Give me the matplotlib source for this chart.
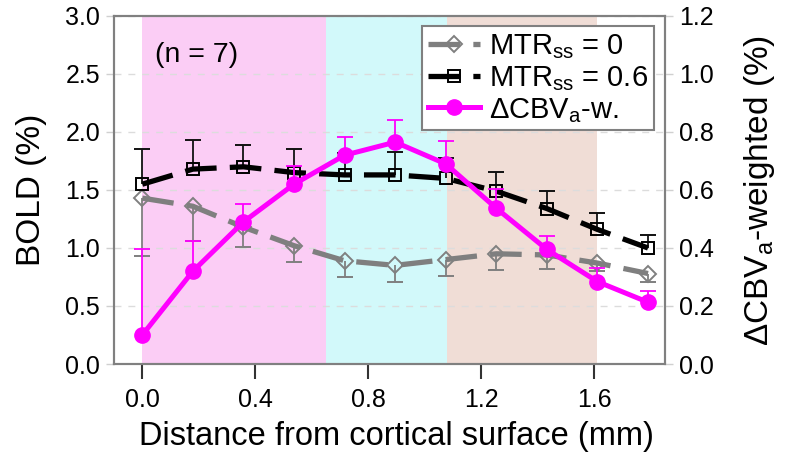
import numpy as np
import matplotlib
matplotlib.use("Agg")
import matplotlib.pyplot as plt

plt.rcParams['font.family'] = ['Liberation Sans', 'DejaVu Sans']
plt.rcParams['mathtext.fontset'] = 'custom'
plt.rcParams['mathtext.rm'] = 'Liberation Sans'
plt.rcParams['mathtext.it'] = 'Liberation Sans:italic'

# ---- data ----
depth = [0.0, 0.179, 0.358, 0.537, 0.716, 0.895, 1.074, 1.253, 1.432, 1.611, 1.79]

bold_mtr0 = [1.43, 1.36, 1.18, 1.02, 0.89, 0.85, 0.90, 0.95, 0.94, 0.87, 0.78]
bold_mtr0_err = [0.50, 0.30, 0.17, 0.145, 0.14, 0.145, 0.14, 0.14, 0.125, 0.07, 0.075]

bold_mtr06 = [1.55, 1.68, 1.70, 1.65, 1.63, 1.63, 1.60, 1.49, 1.34, 1.16, 1.00]
bold_mtr06_err = [0.30, 0.25, 0.19, 0.20, 0.19, 0.20, 0.18, 0.165, 0.15, 0.14, 0.11]

cbv = [0.10, 0.32, 0.49, 0.62, 0.72, 0.765, 0.69, 0.537, 0.395, 0.284, 0.213]
cbv_err = [0.295, 0.104, 0.063, 0.064, 0.062, 0.077, 0.08, 0.065, 0.046, 0.046, 0.04]

regions = [(0.0, 0.65), (0.65, 1.08), (1.08, 1.61)]
region_colors = ['#fbcdf5', '#d2f9fa', '#f0ddd6']

xticks = [0.0, 0.4, 0.8, 1.2, 1.6]
yticks_left = [0.0, 0.5, 1.0, 1.5, 2.0, 2.5, 3.0]
yticks_right = [0.0, 0.2, 0.4, 0.6, 0.8, 1.0, 1.2]

labels = ['MTR$_{\\mathrm{ss}}$ = 0', 'MTR$_{\\mathrm{ss}}$ = 0.6', '\u0394CBV$_{\\mathrm{a}}$-w.']

# ---- figure ----
fig = plt.figure(figsize=(7.92, 4.57), dpi=100)
ax = fig.add_axes([0.144, 0.2035, 0.6956, 0.7615])
ax2 = ax.twinx()

for (a, b), c in zip(regions, region_colors):
    ax.axvspan(a, b, color=c, zorder=0, lw=0)

ax.set_xlim(-0.1, 1.85)
ax.set_ylim(0, 3.0)
ax2.set_ylim(0, 1.2)

spine_c = '#808080'
for a_ in (ax, ax2):
    for s in a_.spines.values():
        s.set_color(spine_c)
        s.set_linewidth(1.5)

ax.yaxis.grid(True, linestyle=(0, (5, 5)), color='#dcdcdc', linewidth=1.0)
ax.set_axisbelow(True)

z0 = np.zeros(len(depth))
# MTR = 0 (gray, lower error bars)
e1 = ax.errorbar(depth, bold_mtr0, yerr=[bold_mtr0_err, z0], color='#7f7f7f',
                 ecolor='#7f7f7f', elinewidth=1.3, capsize=6, capthick=1.3,
                 linestyle=(0, (6, 2.5)), linewidth=3.8, marker='D', markersize=8,
                 markerfacecolor='none', markeredgecolor='#808080', markeredgewidth=1.4,
                 zorder=3)
e1[1][1].set_visible(False)
# MTR = 0.6 (black, upper error bars)
e2 = ax.errorbar(depth, bold_mtr06, yerr=[z0, bold_mtr06_err], color='black',
                 ecolor='#111111', elinewidth=1.3, capsize=6, capthick=1.3,
                 linestyle=(0, (6, 2.5)), linewidth=3.8, marker='s', markersize=9,
                 markerfacecolor='none', markeredgecolor='black', markeredgewidth=1.4,
                 zorder=4)
e2[1][0].set_visible(False)
# CBV (magenta, right axis)
e3 = ax2.errorbar(depth, cbv, yerr=[z0, cbv_err], color='#ff00ff',
                  ecolor='#ff00ff', elinewidth=1.3, capsize=6, capthick=1.3,
                  linestyle='-', linewidth=3.6, marker='o', markersize=11,
                  markerfacecolor='#ff00ff', markeredgecolor='#ff00ff', zorder=5)
e3[1][0].set_visible(False)

ax.set_xticks(xticks)
ax.set_xticklabels([f'{v:.1f}' for v in xticks])
ax.set_yticks(yticks_left)
ax.set_yticklabels([f'{v:.1f}' for v in yticks_left])
ax2.set_yticks(yticks_right)
ax2.set_yticklabels([f'{v:.1f}' for v in yticks_right])

ax.tick_params(axis='x', direction='out', length=11, width=1.5, color='#333333',
               labelsize=18, pad=6)
ax.tick_params(axis='y', direction='out', length=6, width=1.0, color='#d0d0d0',
               labelsize=18, pad=4)
ax2.tick_params(axis='y', direction='out', length=6, width=1.0, color='#d0d0d0',
                labelsize=18, pad=4)

ax.set_xlabel('Distance from cortical surface (mm)', fontsize=23.5, labelpad=6)
ax.xaxis.set_label_coords(0.512, -0.165)
ax.set_ylabel('BOLD (%)', fontsize=24, labelpad=13)
ax2.set_ylabel('\u0394CBV$_{\\mathrm{a}}$-weighted (%)', fontsize=24, rotation=90, labelpad=20)

ax.text(0.045, 2.66, '(n = 7)', fontsize=20.5, va='center', ha='left')

handles = [e1[0], e2[0], e3[0]]
leg = ax2.legend(handles, labels, loc='upper right', bbox_to_anchor=(0.98, 0.97),
                 borderaxespad=0, fontsize=21, frameon=True, fancybox=False,
                 handlelength=1.8, handletextpad=0.3, labelspacing=0.1,
                 borderpad=0.2, framealpha=1.0)
leg.get_frame().set_edgecolor('#808080')
leg.get_frame().set_linewidth(1.5)

fig.savefig('out.png', dpi=100)
